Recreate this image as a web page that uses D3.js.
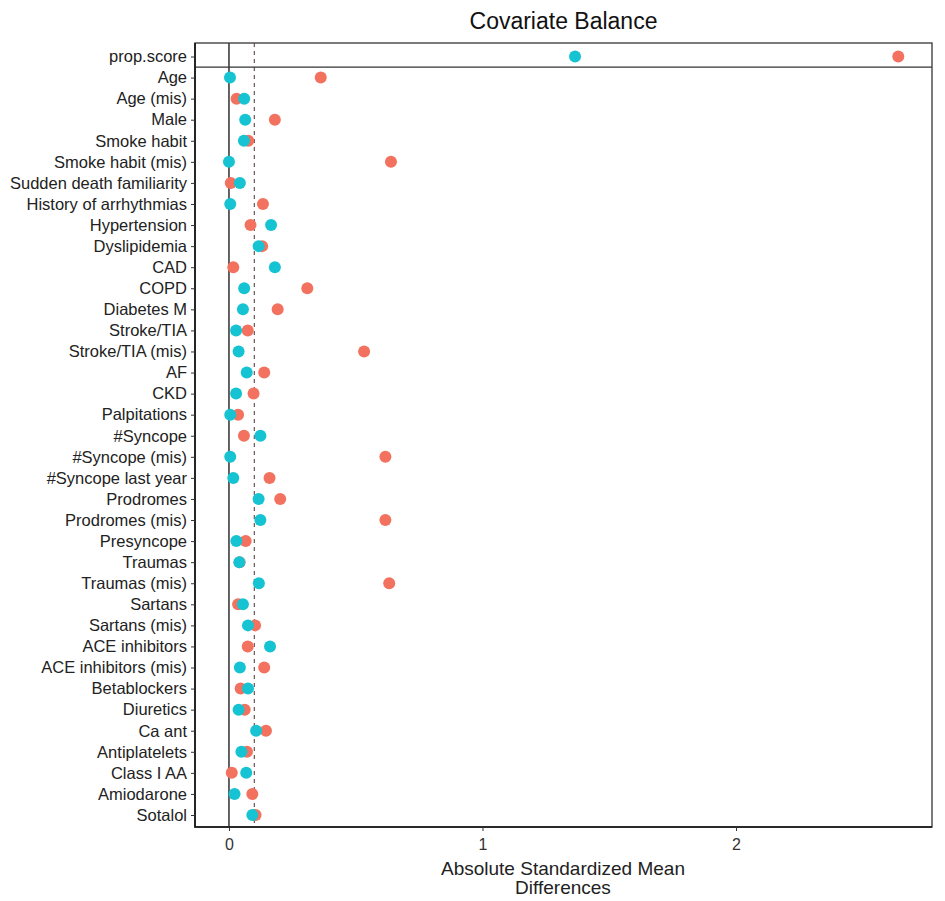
<!DOCTYPE html>
<html><head><meta charset="utf-8">
<script src="https://cdn.jsdelivr.net/npm/d3@7"></script>
<style>body{margin:0;background:#fff}svg text{font-family:"Liberation Sans",Arial,sans-serif}</style>
</head><body>
<svg id="c" width="945" height="901"></svg>
<script>
const covariates = ["prop.score","Age","Age (mis)","Male","Smoke habit","Smoke habit (mis)","Sudden death familiarity","History of arrhythmias","Hypertension","Dyslipidemia","CAD","COPD","Diabetes M","Stroke/TIA","Stroke/TIA (mis)","AF","CKD","Palpitations","#Syncope","#Syncope (mis)","#Syncope last year","Prodromes","Prodromes (mis)","Presyncope","Traumas","Traumas (mis)","Sartans","Sartans (mis)","ACE inhibitors","ACE inhibitors (mis)","Betablockers","Diuretics","Ca ant","Antiplatelets","Class I AA","Amiodarone","Sotalol"];
const unadjusted = [2.64,0.362,0.03,0.181,0.076,0.639,0.007,0.134,0.085,0.131,0.017,0.309,0.192,0.074,0.533,0.139,0.097,0.036,0.059,0.617,0.16,0.202,0.617,0.066,0.042,0.632,0.036,0.103,0.074,0.139,0.046,0.062,0.146,0.071,0.011,0.092,0.105];
const adjusted = [1.365,0.004,0.06,0.064,0.059,0.0,0.043,0.005,0.166,0.117,0.181,0.06,0.055,0.028,0.038,0.07,0.028,0.005,0.124,0.005,0.017,0.117,0.124,0.029,0.041,0.118,0.055,0.075,0.162,0.043,0.075,0.038,0.107,0.049,0.068,0.022,0.092];
const xTicks = [0,1,2];
const threshold = 0.1;
const title = "Covariate Balance";

const svg = d3.select("#c");
const L=195, R=932, T=43, B=827;
const x = d3.scaleLinear().domain([-0.134, 2.773]).range([L, R]);
const y = d3.scalePoint().domain(covariates).range([56.5, 815]);

svg.append("text").attr("x",(L+R)/2).attr("y",29).attr("text-anchor","middle")
  .attr("font-size",23).attr("fill","#111").text(title);

// reference lines
svg.append("line").attr("x1",x(0)).attr("x2",x(0)).attr("y1",T).attr("y2",B).attr("stroke","#111").attr("stroke-width",1.3);
svg.append("line").attr("x1",x(threshold)).attr("x2",x(threshold)).attr("y1",T).attr("y2",B)
  .attr("stroke","#6a5555").attr("stroke-width",1.2).attr("stroke-dasharray","4,4");
// separator under prop.score
const sepY = (y(covariates[0])+y(covariates[1]))/2;
svg.append("line").attr("x1",L).attr("x2",R).attr("y1",sepY).attr("y2",sepY).attr("stroke","#333").attr("stroke-width",1.3);

// frame
svg.append("rect").attr("x",L).attr("y",T).attr("width",R-L).attr("height",B-T)
  .attr("fill","none").attr("stroke","#444").attr("stroke-width",1.4);
svg.append("path").attr("d",`M${L},${T}V${B}H${R}`).attr("fill","none").attr("stroke","#111").attr("stroke-width",1.6);

// axes
const xa = svg.append("g").attr("transform",`translate(0,${B})`)
  .call(d3.axisBottom(x).tickValues(xTicks).tickFormat(d3.format("d")).tickSize(4).tickPadding(8));
xa.select(".domain").remove();
xa.selectAll("text").attr("font-size",16).attr("fill","#333");
xa.selectAll("line").attr("stroke","#333");

const ya = svg.append("g").attr("transform",`translate(${L},0)`)
  .call(d3.axisLeft(y).tickSize(4).tickPadding(4));
ya.select(".domain").remove();
ya.selectAll("text").attr("font-size",16.5).attr("fill","#222");
ya.selectAll("line").attr("stroke","#333");

// points
const rows = covariates.map((c,i)=>({c, u:unadjusted[i], a:adjusted[i]}));
svg.append("g").selectAll("circle").data(rows).join("circle")
  .attr("cx",d=>x(d.u)).attr("cy",d=>y(d.c)).attr("r",6).attr("fill","#F2725F");
svg.append("g").selectAll("circle").data(rows).join("circle")
  .attr("cx",d=>x(d.a)).attr("cy",d=>y(d.c)).attr("r",6).attr("fill","#16C3D2");

// x label
svg.append("text").attr("x",563).attr("y",875).attr("text-anchor","middle").attr("font-size",19).attr("fill","#222")
  .text("Absolute Standardized Mean");
svg.append("text").attr("x",563).attr("y",894).attr("text-anchor","middle").attr("font-size",19).attr("fill","#222")
  .text("Differences");
</script>
</body></html>
